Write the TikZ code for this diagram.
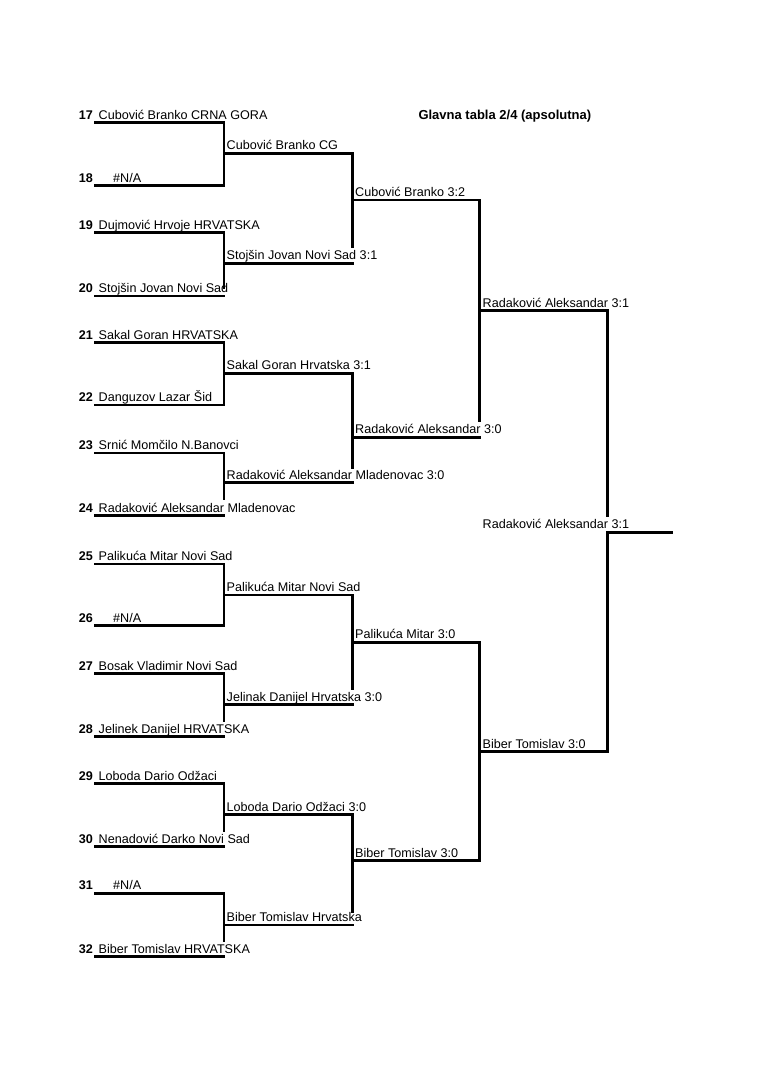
\documentclass[tikz,border=0pt]{standalone}
\usepackage{fontspec}
\setmainfont{Liberation Sans}
\usetikzlibrary{calc}

\begin{document}
\begin{tikzpicture}[x=1pt,y=-1pt,
  bline/.style={line width=2.7pt,line cap=rect},
  txt/.style={anchor=base west,inner sep=0pt,font=\fontsize{12.6}{15}\selectfont},
  num/.style={anchor=base east,inner sep=0pt,font=\fontsize{12.6}{15}\selectfont\bfseries}]
  \useasboundingbox (0,0) rectangle (763,1080);
  % 标题
  \node[txt,font=\fontsize{13}{15}\selectfont\bfseries] (title) at (418.3,119) {Glavna tabla 2/4 (apsolutna)};
  % 选手
  \foreach \k/\y/\tx/\who in {
    17/122.7/98.5/{Cubović Branko CRNA GORA},
    18/185.7/113/{\#N/A},
    19/232.7/98.5/{Dujmović Hrvoje HRVATSKA},
    20/296/98.5/{Stojšin Jovan Novi Sad},
    21/342.7/98.5/{Sakal Goran HRVATSKA},
    22/405/98.5/{Danguzov Lazar Šid},
    23/453/98.5/{Srnić Momčilo N.Banovci},
    24/515.7/98.5/{Radaković Aleksandar Mladenovac},
    25/564/98.5/{Palikuća Mitar Novi Sad},
    26/625.7/113/{\#N/A},
    27/673.5/98.5/{Bosak Vladimir Novi Sad},
    28/736.5/98.5/{Jelinek Danijel HRVATSKA},
    29/783.5/98.5/{Loboda Dario Odžaci},
    30/846.5/98.5/{Nenadović Darko Novi Sad},
    31/893.3/113/{\#N/A},
    32/956.7/98.5/{Biber Tomislav HRVATSKA}}{
    \coordinate (pl\k) at (95.7,\y);
    \coordinate (pr\k) at (224,\y);
    \draw[bline] (pl\k) -- (pr\k);
    \node[num] (n\k) at (93,{\y-3.5}) {\k};
    \node[txt] (t\k) at (\tx,{\y-3.5}) {\who};
  }
  % 第一轮
  \foreach \k/\y/\who in {
    1/153.3/{Cubović Branko CG},
    2/263.3/{Stojšin Jovan Novi Sad 3:1},
    3/373.3/{Sakal Goran Hrvatska 3:1},
    4/482.7/{Radaković Aleksandar Mladenovac 3:0},
    5/595/{Palikuća Mitar Novi Sad},
    6/704.5/{Jelinak Danijel Hrvatska 3:0},
    7/814.5/{Loboda Dario Odžaci 3:0},
    8/925/{Biber Tomislav Hrvatska}}{
    \coordinate (al\k) at (224,\y);
    \coordinate (ar\k) at (352.3,\y);
    \draw[bline] (al\k) -- (ar\k);
    \node[txt] (wa\k) at (226.5,{\y-3.5}) {\who};
  }
  \draw[bline] (pr17) -- (pr18);
  \draw[bline] (pr19) -- ($(pr20)+(0,-8)$);
  \draw[bline] (pr21) -- (pr22);
  \draw[bline] (pr23) -- ($(pr24)+(0,-17)$);
  \draw[bline] (pr25) -- (pr26);
  \draw[bline] (pr27) -- ($(pr28)+(0,-16)$);
  \draw[bline] (pr29) -- ($(pr30)+(0,-16)$);
  \draw[bline] (pr31) -- ($(pr32)+(0,-16.5)$);
  % 第二轮
  \foreach \k/\y/\who in {
    1/200/{Cubović Branko 3:2},
    2/437.3/{Radaković Aleksandar 3:0},
    3/642.3/{Palikuća Mitar 3:0},
    4/860.7/{Biber Tomislav 3:0}}{
    \coordinate (bl\k) at (352.3,\y);
    \coordinate (br\k) at (479.3,\y);
    \draw[bline] (bl\k) -- (br\k);
    \node[txt] (wb\k) at (355,{\y-3.5}) {\who};
  }
  \draw[bline] (ar1) -- ($(ar2)+(0,-16.5)$);
  \draw[bline] (ar3) -- ($(ar4)+(0,-15.5)$);
  \draw[bline] (ar5) -- ($(ar6)+(0,-16)$);
  \draw[bline] (ar7) -- ($(ar8)+(0,-13.5)$);
  % 半决赛
  \foreach \k/\y/\who in {
    1/310.7/{Radaković Aleksandar 3:1},
    2/751.7/{Biber Tomislav 3:0}}{
    \coordinate (cl\k) at (479.3,\y);
    \coordinate (cr\k) at (607.7,\y);
    \draw[bline] (cl\k) -- (cr\k);
    \node[txt] (wc\k) at (482.5,{\y-3.5}) {\who};
  }
  \draw[bline] (br1) -- ($(br2)+(0,-17)$);
  \draw[bline] (br3) -- (br4);
  % 决赛
  \coordinate (fl) at (607.7,532.3);
  \coordinate (fr) at (671.7,532.3);
  \draw[bline] (cr1) -- ($(fl)+(0,-17)$);
  \draw[bline] (fl) -- (cr2);
  \draw[bline] (fl) -- (fr);
  \node[txt] (win) at (482.5,528.8) {Radaković Aleksandar 3:1};
\end{tikzpicture}
\end{document}
